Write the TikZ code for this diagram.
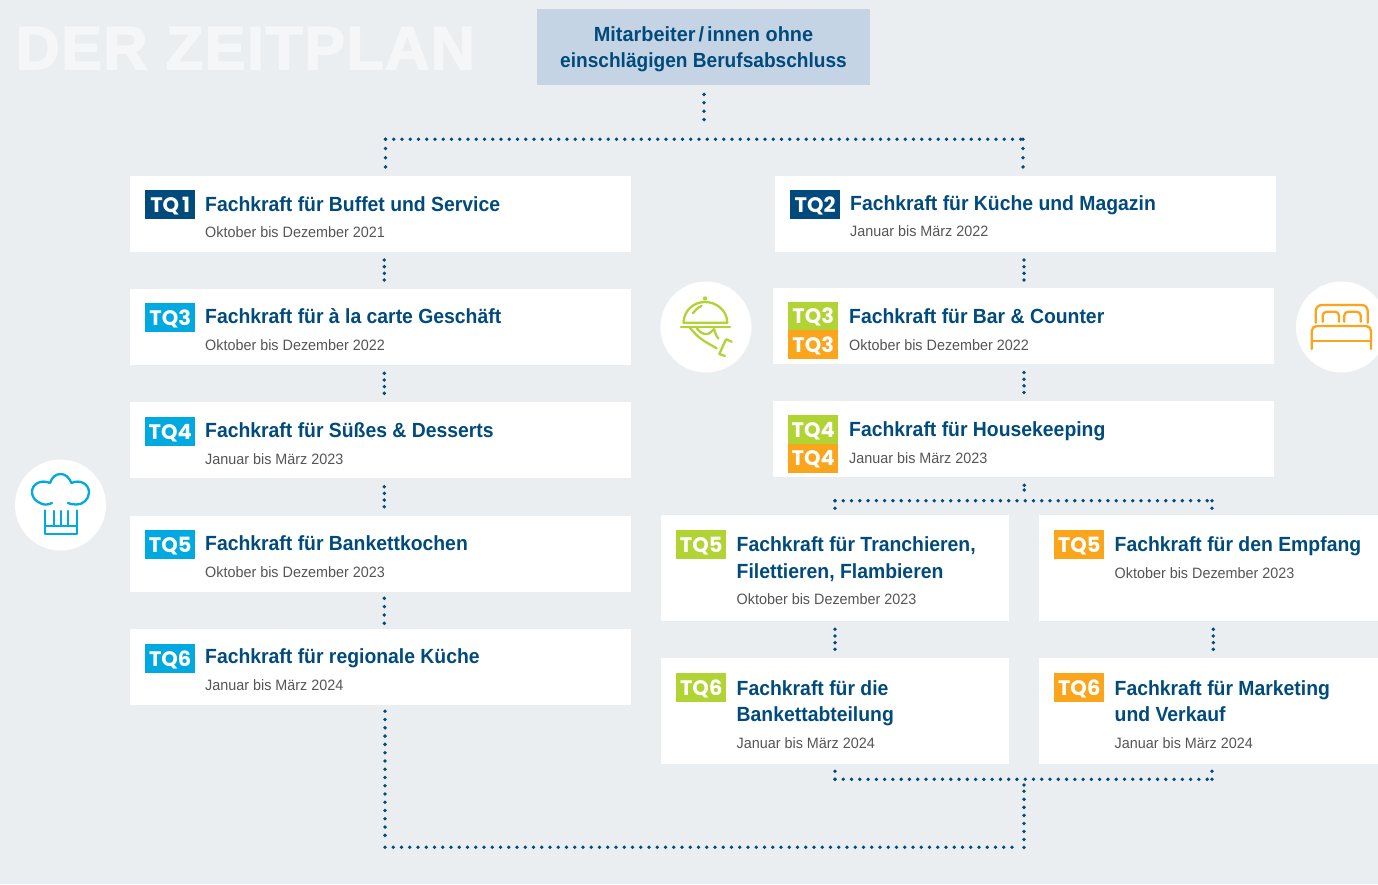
\documentclass[tikz,border=0pt]{standalone}
\usepackage{fontspec}
\setmainfont{Liberation Sans}
\newfontfamily\tqfont{Poppins}
\newfontfamily\ttlfont{Liberation Sans}[FakeStretch=0.945]
\newfontfamily\subfont{Liberation Sans}[FakeStretch=0.958]
\newfontfamily\headAfont{Liberation Sans}[FakeStretch=0.97]
\newfontfamily\headBfont{Liberation Sans}[FakeStretch=0.932]
\newfontfamily\bigfont{Liberation Sans}[BoldFeatures={FakeBold=2.5,LetterSpace=2.5}]
\definecolor{bgc}{HTML}{EBEEF1}
\definecolor{headc}{HTML}{C5D4E4}
\definecolor{navy}{HTML}{004B7C}
\definecolor{greyt}{HTML}{555555}
\definecolor{cyanq}{HTML}{00A9E0}
\definecolor{greenq}{HTML}{B1D333}
\definecolor{orangeq}{HTML}{FBA51C}
\definecolor{titlec}{HTML}{F4F6F8}
\tikzset{
  x=1pt,y=-1pt,
  card/.style={fill=white,draw=none,anchor=north west,inner sep=0pt},
  dotgap/.style={draw=navy,line width=3.8pt,line cap=round,dash pattern=on 0pt off #1pt},
  badge/.style={anchor=north west,minimum width=50pt,inner sep=0pt,text=white,text height=15.5pt,text depth=0pt,font=\tqfont\fontsize{21}{21}\bfseries\selectfont},
  ttl/.style={anchor=base west,inner sep=0pt,text=navy,font=\ttlfont\fontsize{20.5}{26.5}\bfseries\selectfont,align=left},
  sub/.style={anchor=base west,inner sep=0pt,text=greyt,font=\subfont\fontsize{15}{15}\selectfont},
  disc/.style={circle,fill=white,minimum size=91pt,inner sep=0pt},
  icon/.style={line width=2.3pt,line cap=round,line join=round,fill=none},
}
\begin{document}
\begin{tikzpicture}
\useasboundingbox (0,0) rectangle (1378,884);
\fill[bgc] (0,0) rectangle (1378,884);
\node[anchor=base west,inner sep=0pt,text=titlec,font=\bigfont\fontsize{61}{61}\bfseries\selectfont] (title) at (15.5,69) {DER ZEITPLAN};
\node[card,fill=headc,minimum width=333pt,minimum height=76pt] (head) at (537,9) {};
\node[text=navy,inner sep=0pt,font=\headAfont\fontsize{20.5}{26}\bfseries\selectfont] (headt) at (703.5,34) {Mitarbeiter\kern3pt/\kern3pt innen ohne};
\node[text=navy,inner sep=0pt,font=\headBfont\fontsize{20.5}{26}\bfseries\selectfont] (headu) at (703.5,62) {einschlägigen Berufsabschluss};
% left column
\foreach \n/\yy in {a/176,b/289,c/402,d/516,e/629}{
  \node[card,minimum width=501pt,minimum height=76pt] (\n) at (130,\yy) {};
}
\node[card,minimum width=501pt,minimum height=76pt] (f) at (775,176) {};
\node[card,minimum width=501pt,minimum height=76pt] (g) at (773,288) {};
\node[card,minimum width=501pt,minimum height=76pt] (h) at (773,401) {};
\node[card,minimum width=348pt,minimum height=106pt] (i) at (661,515) {};
\node[card,minimum width=339pt,minimum height=106pt] (j) at (1039,515) {};
\node[card,minimum width=348pt,minimum height=106pt] (k) at (661,658) {};
\node[card,minimum width=339pt,minimum height=106pt] (l) at (1039,658) {};
% badges
\node[badge,fill=navy,minimum height=29pt] (ba) at (145,190) {TQ\kern3pt 1};
\node[badge,fill=cyanq,minimum height=29pt] (bb) at (145,303) {TQ3};
\node[badge,fill=cyanq,minimum height=29pt] (bc) at (145,417) {TQ4};
\node[badge,fill=cyanq,minimum height=29pt] (bd) at (145,530) {TQ5};
\node[badge,fill=cyanq,minimum height=29pt] (be) at (145,644) {TQ6};
\node[badge,fill=navy,minimum height=29pt] (bf) at (790,190) {TQ2};
\node[badge,fill=greenq,minimum height=28.5pt] (bg) at (788,301.5) {TQ3};
\node[badge,fill=orangeq,minimum height=29pt] (bg2) at (788,330) {TQ3};
\node[badge,fill=greenq,minimum height=28.5pt] (bh) at (788,415) {TQ4};
\node[badge,fill=orangeq,minimum height=29pt] (bh2) at (788,443.5) {TQ4};
\node[badge,fill=greenq,minimum height=29pt] (bi) at (676,530) {TQ5};
\node[badge,fill=orangeq,minimum height=29pt] (bj) at (1054,530) {TQ5};
\node[badge,fill=greenq,minimum height=29pt] (bk) at (676,673) {TQ6};
\node[badge,fill=orangeq,minimum height=29pt] (bl) at (1054,673) {TQ6};
% titles
\node[ttl] (ta) at (205,211) {Fachkraft für Buffet und Service};
\node[sub] (sa) at (205,237) {Oktober bis Dezember 2021};
\node[ttl] (tb) at (205,323) {Fachkraft für à la carte Geschäft};
\node[sub] (sb) at (205,350) {Oktober bis Dezember 2022};
\node[ttl] (tc) at (205,437) {Fachkraft für Süßes \& Desserts};
\node[sub] (sc) at (205,464) {Januar bis März 2023};
\node[ttl] (td) at (205,550) {Fachkraft für Bankettkochen};
\node[sub] (sd) at (205,577) {Oktober bis Dezember 2023};
\node[ttl] (te) at (205,663) {Fachkraft für regionale Küche};
\node[sub] (se) at (205,690) {Januar bis März 2024};
\node[ttl] (tf) at (850,210) {Fachkraft für Küche und Magazin};
\node[sub] (sf) at (850,236) {Januar bis März 2022};
\node[ttl] (tg) at (849,323) {Fachkraft für Bar \& Counter};
\node[sub] (sg) at (849,350) {Oktober bis Dezember 2022};
\node[ttl] (th) at (849,436) {Fachkraft für Housekeeping};
\node[sub] (sh) at (849,463) {Januar bis März 2023};
\node[ttl] (ti) at (736.5,551) {Fachkraft für Tranchieren,};
\node[ttl] (ti2) at (736.5,578) {Filettieren, Flambieren};
\node[sub] (si) at (736.5,604) {Oktober bis Dezember 2023};
\node[ttl] (tj) at (1114.5,551) {Fachkraft für den Empfang};
\node[sub] (sj) at (1114.5,578) {Oktober bis Dezember 2023};
\node[ttl] (tk) at (736.5,695) {Fachkraft für die};
\node[ttl] (tk2) at (736.5,721) {Bankettabteilung};
\node[sub] (sk) at (736.5,748) {Januar bis März 2024};
\node[ttl] (tl) at (1114.5,695) {Fachkraft für Marketing};
\node[ttl] (tl2) at (1114.5,721) {und Verkauf};
\node[sub] (sl) at (1114.5,748) {Januar bis März 2024};
% circles + icons
\node[disc] (c1) at (706,327) {};
\node[disc] (c2) at (1341.5,327) {};
\node[disc] (c3) at (60.5,505) {};
\begin{scope}[icon,draw=greenq]
  \draw (681,326.7) -- (730,326.7);
  \draw (683.5,322.7) .. controls (684,310) and (694,302) .. (705,302) .. controls (716,302) and (727,310) .. (727.3,322.7) -- cycle;
  \fill[greenq] (705,298.5) circle (2.2pt);
  \draw (693,313) .. controls (695,310) and (698,307.5) .. (701.5,306);
  \draw (690,328) -- (697,335.5) .. controls (699,337) and (701,339) .. (704,341) -- (716.7,348.3);
  \draw (696.7,328) .. controls (699,332) and (704,335) .. (708,334) .. controls (710,333.5) and (712,331) .. (714,329) .. controls (715.5,332) and (715.5,336) .. (718.5,338.5);
  \draw (731.7,341.7) -- (726,339.3) -- (719.3,354) -- (725,356);
\end{scope}
\begin{scope}[icon,draw=orangeq]
  \draw[rounded corners=6pt] (1315.7,322.7) -- (1315.7,305) -- (1367.7,305) -- (1367.7,322.7);
  \draw[rounded corners=4pt] (1322.7,321.7) -- (1322.7,311.7) -- (1339,311.7) -- (1339,321.7);
  \draw[rounded corners=4pt] (1344.3,321.7) -- (1344.3,311.7) -- (1360.7,311.7) -- (1360.7,321.7);
  \draw[rounded corners=5pt] (1311.7,349) -- (1311.7,326) -- (1371,326) -- (1371,349);
  \draw (1311.7,341) -- (1371,341);
\end{scope}
\begin{scope}[icon,draw=cyanq]
  \draw (52,503) .. controls (48,505) and (44,505) .. (41,503.5) .. controls (35,501) and (32,497) .. (32,492) .. controls (32,484) and (41,479) .. (50,483) .. controls (52,477) and (56,474) .. (60.5,474) .. controls (65,474) and (69,477) .. (71.5,483) .. controls (80,479) and (89,484) .. (89,492.5) .. controls (89,499) and (83,505) .. (76,504.5) .. controls (73,504.5) and (70,504) .. (68,503);
  \draw (45,510.5) -- (45,534) -- (76.7,534) -- (76.7,510.5);
  \draw (45,526) -- (76.7,526);
  \draw (54,511) -- (54,526);
  \draw (60.7,511) -- (60.7,526);
  \draw (67.7,511) -- (67.7,526);
\end{scope}
% connectors: named start / end points, gap in px
\foreach \n/\x/\ya/\yb/\g in {
  p/704/94.4/119.6/8.4,
  q/385.5/139.3/167/9.2,
  r/1023/139.3/167/9.2,
  s/384.3/260/280.2/6.67,
  t/384.3/373.3/393.5/6.67,
  u/384.3/486.7/507/6.67,
  v/384.3/598.3/623.6/8.33,
  w/1024/260/280.2/6.67,
  x/1024/372.5/392.7/6.67,
  y/1024.3/485.3/490.3/4.7,
  z/835/629.3/649.6/6.67,
  A/1213.3/629.3/649.6/6.67,
  B/835/500.7/508.5/7.6,
  C/1212/500.7/508.5/7.6,
  D/835/771.3/779.5/7.9,
  E/1212/771.3/779.5/7.9,
  F/1024/785/785.2/8,
  G/1024/791.3/848/8.03}{
  \coordinate (\n a) at (\x,\ya);
  \coordinate (\n b) at (\x,\yb);
  \draw[dotgap=\g] (\n a) -- (\n b);
}
\coordinate (j1) at (385.5,139.3);
\coordinate (j2) at (1023.2,139.3);
\coordinate (j3) at (835,500.7);
\coordinate (j4) at (1212.3,500.7);
\coordinate (j5) at (835,779.3);
\coordinate (j6) at (1212.3,779.3);
\coordinate (j9) at (385,847.3);
\coordinate (j10) at (1012.3,847.3);
\coordinate (j11) at (385,711.3);
\coordinate (j12) at (385,835.6);
\draw[dotgap=8.25] (j1) -- (j2);
\draw[dotgap=8.27] (j3) -- (j4);
\draw[dotgap=8.27] (j5) -- (j6);
\draw[dotgap=8.25] (j9) -- (j10);
\draw[dotgap=8.27] (j11) -- (j12);
\end{tikzpicture}
\end{document}
